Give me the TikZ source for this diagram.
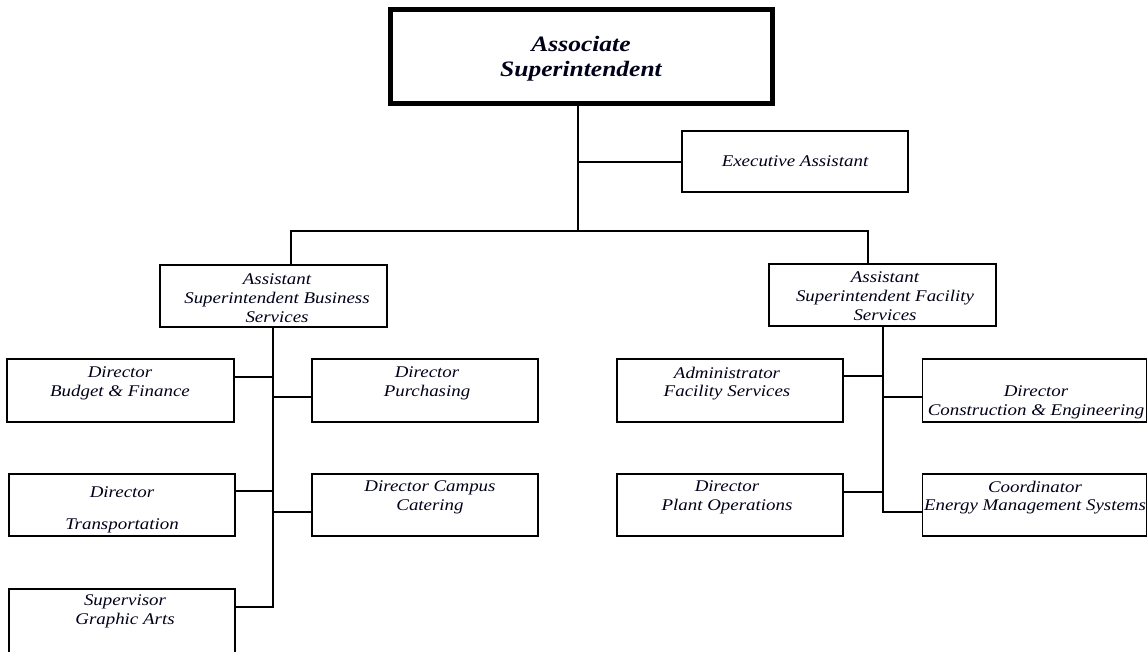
\documentclass[tikz,border=0pt]{standalone}
\usepackage{fontspec}
\newfontfamily\chartfont{Liberation Serif}[FakeStretch=1.16]
\begin{document}
\begin{tikzpicture}[x=1pt,y=-1pt,
  box/.style={draw=black, line width=1.4pt, inner sep=0pt, outer sep=0pt},
  headbox/.style={draw=black, line width=5pt, inner sep=0pt, outer sep=0pt},
  txt/.style={inner sep=0pt, align=center, font=\chartfont\fontsize{16.3}{18.8}\selectfont\itshape, text=black!90!blue},
  headtxt/.style={inner sep=0pt, align=center, font=\chartfont\fontsize{22}{25}\selectfont\bfseries\itshape, text=black!90!blue},
  link/.style={draw=black, line width=1.4pt}]
\useasboundingbox (0,0) rectangle (1148,651);

% boxes: centre and size
\node[headbox, minimum width=382, minimum height=94] (as) at (581,56) {};
\node[box, minimum width=226, minimum height=61] (ea) at (795,161.5) {};
\node[box, minimum width=227, minimum height=62] (asbs) at (273.5,296) {};
\node[box, minimum width=227, minimum height=62] (asfs) at (882.5,295) {};

\node[box, minimum width=227, minimum height=63] (bf) at (120.5,390.5) {};
\node[box, minimum width=226, minimum height=63] (pu) at (425,390.5) {};
\node[box, minimum width=226, minimum height=62] (tr) at (122,505) {};
\node[box, minimum width=226, minimum height=62] (cc) at (425,505) {};
\node[box, minimum width=226, minimum height=70] (ga) at (122,624) {};

\node[box, minimum width=226, minimum height=63] (af) at (730,390.5) {};
\node[box, minimum width=224, minimum height=63] (ce) at (1034.5,390.5) {};
\node[box, minimum width=226, minimum height=62] (po) at (730,505) {};
\node[box, minimum width=224, minimum height=62] (em) at (1034.5,505) {};

% labels
\node[headtxt] at (581,59) {Associate\\Superintendent};
\node[txt] at (795,161) {Executive Assistant};
\node[txt] at (277,298) {Assistant\\Superintendent Business\\Services};
\node[txt] at (885,296) {Assistant\\Superintendent Facility\\Services};
\node[txt] at (120,383.5) {Director\\Budget \& Finance};
\node[txt] at (427,383.5) {Director\\Purchasing};
\node[txt] at (122,509.5) {Director\\[13pt]Transportation};
\node[txt] at (430,497.5) {Director Campus\\Catering};
\node[txt] at (125,611) {Supervisor\\Graphic Arts};
\node[txt] at (727,383.5) {Administrator\\Facility Services};
\node[txt] at (1036,402) {Director\\Construction \& Engineering};
\node[txt] at (727,497.5) {Director\\Plant Operations};
\node[txt] at (1035,497.5) {Coordinator\\Energy Management Systems};

% junction points on the trunks
\coordinate (topfork) at (578,231);
\coordinate (lt) at (273,327);
\coordinate (rt) at (883,326);

% connectors
\draw[link] (as.south -| topfork) -- (topfork);
\draw[link] (578,162) -- (ea.west |- 578,162);
\draw[link] (asbs.north -| 291,0) -- (291,231) -- (868,231) -- (asfs.north -| 868,0);

\draw[link] (asbs.south -| lt) -- (273,607) -- (ga.east |- 0,607);
\draw[link] (bf.east |- 0,377) -- (273,377);
\draw[link] (273,397) -- (pu.west |- 0,397);
\draw[link] (tr.east |- 0,491) -- (273,491);
\draw[link] (273,512) -- (cc.west |- 0,512);

\draw[link] (asfs.south -| rt) -- (883,512) -- (em.west |- 0,512);
\draw[link] (af.east |- 0,376) -- (883,376);
\draw[link] (883,397) -- (ce.west |- 0,397);
\draw[link] (po.east |- 0,492) -- (883,492);
\end{tikzpicture}
\end{document}
